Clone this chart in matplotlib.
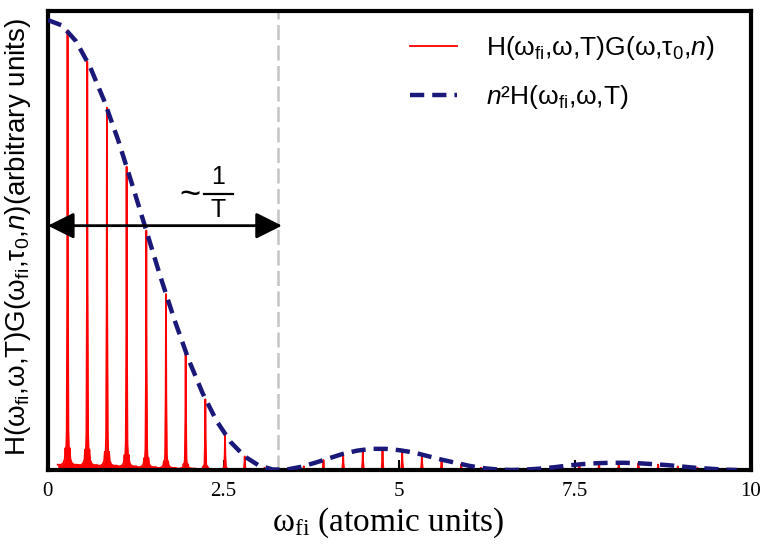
import matplotlib
matplotlib.use("Agg")
import matplotlib.pyplot as plt
import numpy as np

plt.rcParams["mathtext.fontset"] = "custom"
plt.rcParams["mathtext.rm"] = "Liberation Sans"
plt.rcParams["mathtext.it"] = "Liberation Sans:italic"

# envelope n^2 H(w_fi, w, T)
env_x = [0.0, 0.2, 0.4, 0.6, 0.8, 1.0, 1.2, 1.4, 1.6, 1.8,
         2.0, 2.2, 2.4, 2.6, 2.8, 3.0, 3.2, 3.4, 3.6, 3.8,
         4.0, 4.2, 4.4, 4.6, 4.8, 5.0, 5.2, 5.4, 5.6, 5.8,
         6.0, 6.2, 6.4, 6.6, 6.8, 7.0, 7.2, 7.4, 7.6, 7.8,
         8.0, 8.2, 8.4, 8.6, 8.8, 9.0, 9.2, 9.4, 9.6, 9.8]
env_y = [1.000, 0.988, 0.953, 0.896, 0.821, 0.733, 0.634, 0.532, 0.430, 0.334,
         0.246, 0.171, 0.109, 0.062, 0.030, 0.010, 0.001, 0.001, 0.007, 0.016,
         0.026, 0.036, 0.043, 0.047, 0.047, 0.044, 0.039, 0.031, 0.023, 0.016,
         0.009, 0.004, 0.001, 0.000, 0.001, 0.003, 0.006, 0.010, 0.013, 0.015,
         0.016, 0.016, 0.015, 0.013, 0.011, 0.008, 0.005, 0.003, 0.001, 0.000]

# comb peaks of H*G
peak_x = [0.28, 0.56, 0.84, 1.12, 1.40, 1.68, 1.96, 2.24, 2.52, 2.80,
          3.08, 3.36, 3.64, 3.92, 4.20, 4.48, 4.76, 5.04, 5.32, 5.60,
          5.88, 6.16, 6.44, 6.72, 7.00, 7.28, 7.56, 7.84, 8.12, 8.40,
          8.68, 8.96, 9.24, 9.52, 9.80]
peak_y = [0.977, 0.908, 0.805, 0.674, 0.532, 0.391, 0.263, 0.157, 0.080, 0.030,
          0.005, 0.000, 0.008, 0.022, 0.036, 0.045, 0.047, 0.043, 0.035, 0.023,
          0.013, 0.005, 0.001, 0.000, 0.003, 0.008, 0.012, 0.015, 0.016, 0.015,
          0.012, 0.008, 0.005, 0.002, 0.000]

xtick_vals = [0, 2.5, 5, 7.5, 10]
xtick_text = ["0", "2.5", "5", "7.5", "10"]

# line shape of a single comb tooth (offset, fraction of peak height)
tooth_dx = np.array([-0.14, -0.09, -0.06, -0.04, -0.03, -0.022, -0.012, -0.004, 0.0,
                     0.004, 0.012, 0.022, 0.03, 0.04, 0.06, 0.09, 0.14])
tooth_rel = np.array([0.012, 0.012, 0.016, 0.025, 0.05, 0.03, 0.09, 0.45, 1.0,
                      0.45, 0.09, 0.03, 0.05, 0.025, 0.016, 0.012, 0.012])

comb_x, comb_y = [], []
for p, h in zip(peak_x, peak_y):
    comb_x.extend(p + tooth_dx)
    comb_y.extend(h * tooth_rel)

fig = plt.figure(figsize=(7.6, 5.47), dpi=100)
ax = fig.add_axes([0.063, 0.1408, 0.925, 0.839])

ax.axvline(3.28, color="#c4c4c4", lw=1.8, dashes=(6, 2.2), zorder=1)

ax.fill_between(comb_x, comb_y, color="red", lw=0, zorder=2)
ax.plot(comb_x, comb_y, color="red", lw=1.3, zorder=2,
        label=r"H($\mathregular{ω_{fi}}$,ω,T)G(ω,$\mathregular{τ_0}$,$\mathit{n}$)")
ax.plot(env_x, env_y, color="#1a1878", lw=3.2, dashes=(3.2, 1.8), zorder=3,
        label=r"$\mathit{n}$²H($\mathregular{ω_{fi}}$,ω,T)")

# width of the main lobe
ax.annotate("", xy=(0.0, 0.543), xytext=(3.33, 0.543),
            arrowprops=dict(arrowstyle="<|-|>,head_length=1.0,head_width=0.5",
                            mutation_scale=16, lw=2, color="black",
                            shrinkA=0, shrinkB=0), zorder=4)
ax.text(2.02, 0.610, "~", fontsize=26, family="Liberation Sans",
        ha="center", va="center")
ax.text(2.42, 0.651, "1", fontsize=18, family="Liberation Sans",
        ha="center", va="center")
ax.text(2.42, 0.577, "T", fontsize=18, family="Liberation Sans",
        ha="center", va="center")
ax.plot([2.22, 2.63], [0.614, 0.614], color="black", lw=1.6)

ax.set_xlim(0, 10)
ax.set_ylim(0, 1.02)
ax.set_yticks([])
ax.set_xticks(xtick_vals)
ax.set_xticklabels(xtick_text, family="Liberation Serif", fontsize=15)
ax.tick_params(axis="x", direction="in", length=7, width=1.5, pad=9)
for s in ax.spines.values():
    s.set_linewidth(3)

ax.legend(loc="upper left", bbox_to_anchor=(0.515, 0.95), frameon=False,
          prop={"family": "Liberation Sans", "size": 19},
          handlelength=1.8, handletextpad=1.1, labelspacing=0.8,
          borderpad=0, borderaxespad=0)

fig.text(388 / 760, 1 - 523 / 547, r"$\mathregular{ω_{fi}}$ (atomic units)",
         family="Liberation Serif", fontsize=24, ha="center", va="center")
fig.text(18 / 760, 1 - 237 / 547,
         r"H($\mathregular{ω_{fi}}$,ω,T)G($\mathregular{ω_{fi}}$,$\mathregular{τ_0}$,$\mathit{n}$)(arbitrary units)",
         family="Liberation Sans", fontsize=20, rotation=90,
         ha="center", va="center")

fig.savefig("out.png", dpi=100)
